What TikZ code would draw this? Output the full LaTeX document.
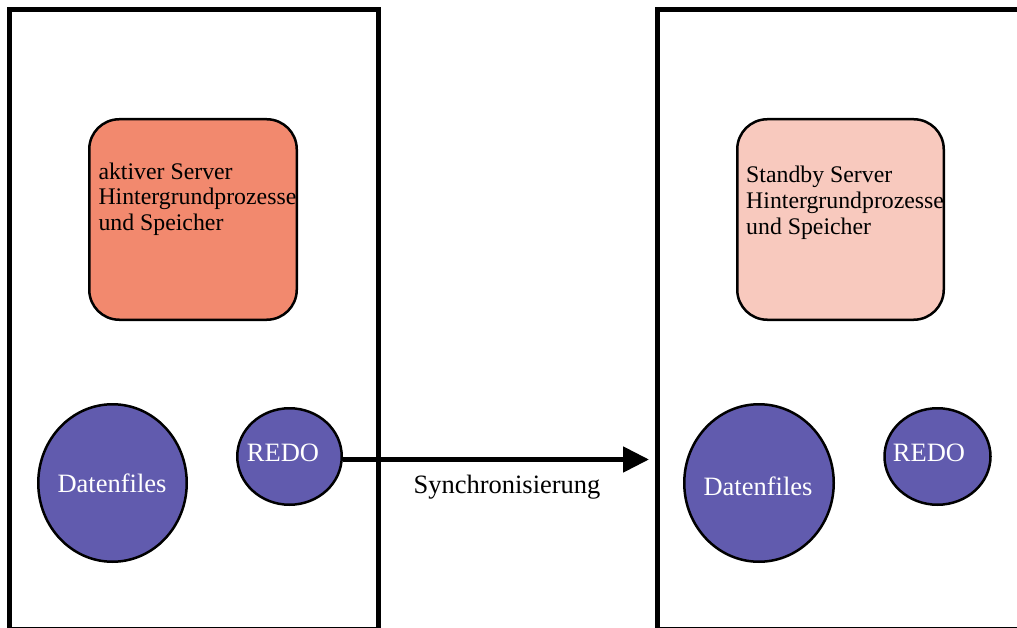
\documentclass[tikz,border=0pt]{standalone}
\usepackage{fontspec}
\setmainfont{Liberation Serif}
\usetikzlibrary{shapes.geometric,arrows.meta}
\definecolor{activefill}{RGB}{242,137,110}
\definecolor{standbyfill}{RGB}{248,201,190}
\definecolor{diskfill}{RGB}{97,91,174}
\tikzset{
  hostbox/.style={draw=black, line width=5pt, outer sep=0pt, inner sep=0pt},
  srvbox/.style={draw=black, line width=2.5pt, rounded corners=30pt},
  disk/.style={ellipse, draw=black, line width=2.5pt, fill=diskfill, inner sep=0pt},
  disktext/.style={anchor=base, text=white, inner sep=0pt, font=\fontsize{26.5}{30}\selectfont},
  srvtext/.style={anchor=base west, align=left, inner sep=0pt, font=\fontsize{23.8}{25.5}\selectfont},
  syncarrow/.style={draw=black, line width=5pt, -{Triangle[length=26pt,width=25pt]}}
}
\begin{document}
\begin{tikzpicture}[x=1pt,y=-1pt]
\clip (0,0) rectangle (1017,628);
\useasboundingbox (0,0) rectangle (1017,628);
\fill[white] (0,0) rectangle (1017,628);
% host boxes
\node[hostbox, anchor=north west, minimum width=368.5pt, minimum height=620pt] (hostL) at (9.5,9.5) {};
\node[hostbox, anchor=north west, minimum width=380pt, minimum height=620pt] (hostR) at (657.5,9.5) {};
% server boxes
\filldraw[srvbox, fill=activefill] (89.25,119.25) rectangle (296.75,319.75);
\node[anchor=north west, inner sep=0pt, outer sep=0pt, minimum width=207.5pt, minimum height=200.5pt] (srvL) at (89.25,119.25) {};
\filldraw[srvbox, fill=standbyfill] (737.25,119.25) rectangle (943.75,319.75);
\node[anchor=north west, inner sep=0pt, outer sep=0pt, minimum width=206.5pt, minimum height=200.5pt] (srvR) at (737.25,119.25) {};
\node[srvtext] (srvLt) at (98.3,180) {aktiver Server};
\node[srvtext] (srvLt2) at (98.3,205) {Hintergrundprozesse};
\node[srvtext] (srvLt3) at (98.3,231) {und Speicher};
\node[srvtext] (srvRt) at (746,182.5) {Standby Server};
\node[srvtext] (srvRt2) at (746,208.5) {Hintergrundprozesse};
\node[srvtext] (srvRt3) at (746,234.5) {und Speicher};
% disks
\node[disk, minimum width=148.5pt, minimum height=157.5pt] (dataL) at (112.5,483) {};
\node[disk, minimum width=104.5pt, minimum height=96.5pt] (redoL) at (289.5,456.5) {};
\node[disk, minimum width=149.5pt, minimum height=157.5pt] (dataR) at (759,483) {};
\node[disk, minimum width=106pt, minimum height=96.5pt] (redoR) at (937.5,456.5) {};
\node[disktext] (dataLt) at (112,492) {Datenfiles};
\node[disktext] (redoLt) at (283,461) {REDO};
\node[disktext] (dataRt) at (758,495) {Datenfiles};
\node[disktext] (redoRt) at (929,461) {REDO};
% synchronisation arrow
\coordinate (syncend) at (649,459.5);
\draw[syncarrow] (redoL.east |- syncend) -- (syncend);
\node[anchor=base, inner sep=0pt, font=\fontsize{26.5}{30}\selectfont] (synclabel) at (507,493) {Synchronisierung};
\end{tikzpicture}
\end{document}
